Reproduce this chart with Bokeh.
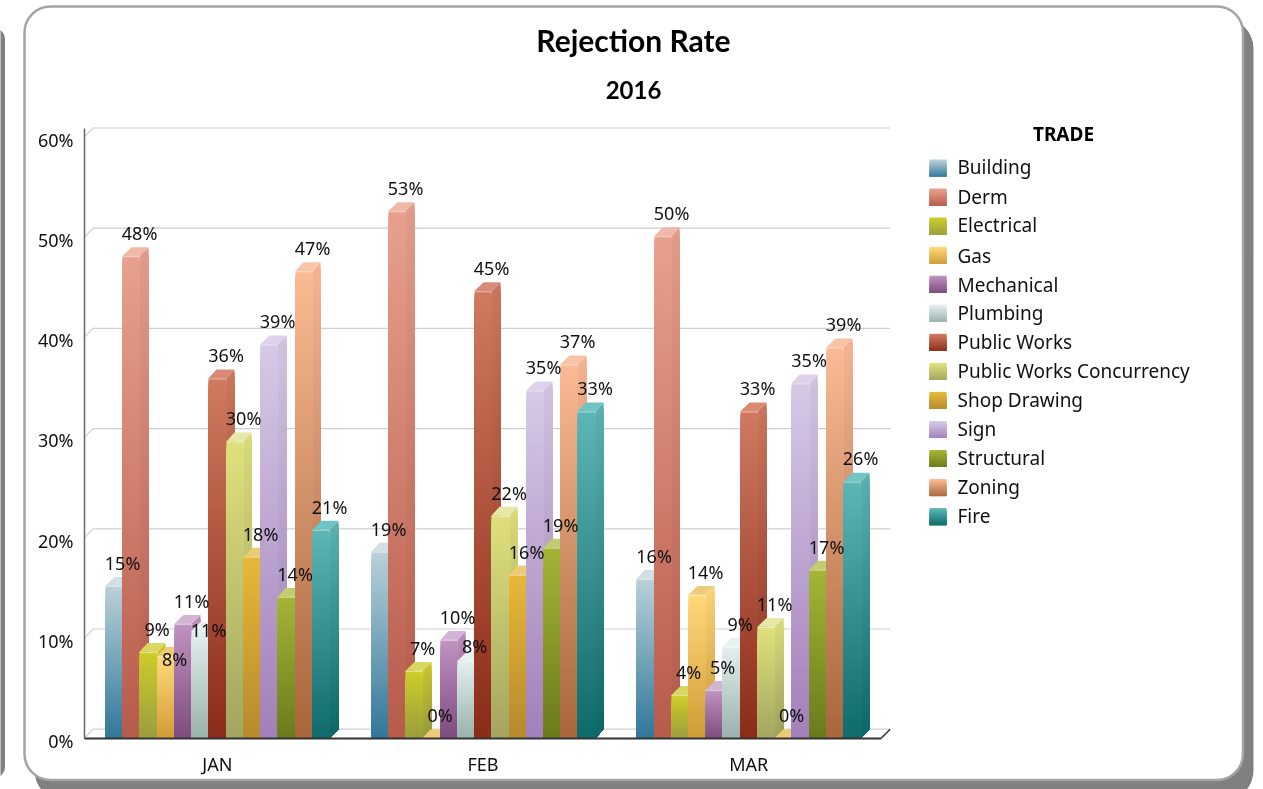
from bokeh.plotting import figure
from bokeh.embed import file_html
from bokeh.resources import INLINE
from bokeh.models import Range1d, FixedTicker, ColumnDataSource
from bokeh.core.properties import value

title_text = "Rejection Rate"
subtitle_text = "2016"
legend_title = "TRADE"
months = ["JAN", "FEB", "MAR"]
trades = ["Building", "Derm", "Electrical", "Gas", "Mechanical", "Plumbing", "Public Works",
          "Public Works Concurrency", "Shop Drawing", "Sign", "Structural", "Zoning", "Fire"]
jan = [15.2, 48.1, 8.6, 8.2, 11.4, 10.7, 35.9, 29.6, 18.1, 39.3, 14.1, 46.6, 20.8]
feb = [18.6, 52.6, 6.7, 0, 9.8, 7.7, 44.6, 22.2, 16.3, 34.7, 19.0, 37.3, 32.6]
mar = [15.9, 50.1, 4.3, 14.3, 4.8, 9.1, 32.6, 11.1, 0, 35.4, 16.8, 39.0, 25.6]
y_ticks = [0, 10, 20, 30, 40, 50, 60]

face_top = ["#b9d0d8", "#e8a08e", "#cccc2a", "#ffd87a", "#bf92c0", "#e2eeee", "#cf7a60",
            "#dfe07c", "#e6b83a", "#d6c9e6", "#a3b536", "#fbb995", "#5db5b5"]
face_bottom = ["#2f7699", "#b75b4b", "#9a9c3f", "#cf9c35", "#7d4a7e", "#97b1a9", "#8b2b19",
               "#a3a460", "#b58a2c", "#a27fb9", "#6a7a1c", "#a8663a", "#0f6a6a"]
cap_color = ["#d0dfe3", "#f0b8a8", "#d8d860", "#eccc7a", "#d4b4d4", "#e8f2f0", "#d98a75",
             "#e6e8a8", "#eccb75", "#ddd2ea", "#c2cc70", "#f8c4a8", "#70c4c4"]

# layout (pixels of the 1263x789 page)
W, H = 1263, 789
X0, STEP = 84.0, 265.67
Y0, UNIT = 737.5, 10.02
def X(px): return (px - X0) / STEP
def Y(py): return (Y0 - py) / UNIT
def snap(x): return X(round(x * STEP + X0))   # vertical edges on whole pixels
DX, DY = 8.6 / STEP, 8.8 / UNIT
BAR = 17.23 / STEP
GROUP = 21.0 / STEP
FONT = "Noto Sans"
# the labels the original chart moved out of each other's way: (month, trade) -> offset in px
label_nudges = {(0, 3): 3, (0, 5): -1, (1, 5): -15}
LABEL_LIFT = -23
TICK_LABEL_DROP = 0.3

def hx(c): return [int(c[i:i + 2], 16) for i in (1, 3, 5)]
def mix(a, b, t):
    return "#%02x%02x%02x" % tuple(round(p + (q - p) * t) for p, q in zip(hx(a), hx(b)))

p = figure(width=W, height=H, output_backend="svg", toolbar_location=None,
           x_range=Range1d(X(0), X(W)), y_range=Range1d(Y(H), Y(0)),
           min_border=0, min_border_left=0, min_border_right=0, min_border_top=0, min_border_bottom=0,
           outline_line_color=None, background_fill_color="white", border_fill_color="white")
p.styles = {"position": "fixed", "left": "0px", "top": "0px"}
p.grid.visible = False

# frame: neighbouring panel edge, shadow, white rounded panel
p.quad(left=[X(-30)], right=[X(4.5)], top=[Y(27)], bottom=[Y(778)], fill_color="#808080",
       line_color=None, border_radius=12)
p.quad(left=[X(34)], right=[X(1253)], top=[Y(18)], bottom=[Y(800)], fill_color="#808080",
       line_color=None, border_radius=30)
p.quad(left=[X(24)], right=[X(1242.5)], top=[Y(6)], bottom=[Y(779.5)], fill_color="white",
       line_color="#a4a4a4", line_width=2.5, border_radius=26)

# back wall and floor lines
xs_grid, ys_grid = [], []
for t in y_ticks:
    xs_grid.append([0, DX, 3 + DX])
    ys_grid.append([t, t + DY, t + DY])
p.multi_line(xs_grid, ys_grid, line_color="#d0d0d0", line_width=1.2)
p.line([3, 3 + DX], [0, DY], line_color="#333333", line_width=1.5)

# bars, painted left to right
pxs, pys, pcs = [], [], []
def poly(xs, ys, c):
    pxs.append(xs); pys.append(ys); pcs.append(c)

lab_x, lab_y, lab_t, lab_off = [], [], [], []
for m, vals in enumerate([jan, feb, mar]):
    for i, v in enumerate(vals):
        x0 = snap(m + GROUP + i * BAR)
        x1 = snap(m + GROUP + (i + 1) * BAR)
        x2 = snap(m + GROUP + (i + 1) * BAR + DX)
        cap_left = x0 + (x2 - x1)
        if v > 0:
            slices = max(10, int(v * UNIT / 3))
            step = v / slices
            for k in range(slices):
                t = k / slices
                yk = v - k * step
                c = mix(face_top[i], face_bottom[i], t)
                poly([x1, x2, x2, x1], [yk, yk + DY, DY, 0], mix(c, "#000000", 0.03))
            for k in range(slices):
                t = k / slices
                yk = v - k * step
                poly([x0, x1, x1, x0], [yk, yk, 0, 0], mix(face_top[i], face_bottom[i], t))
            poly([x0, x1, x1, x0], [v, v, v - 1.2 / UNIT, v - 1.2 / UNIT], mix(face_top[i], "#ffffff", 0.45))
        poly([x0, x1, x2, cap_left], [v, v, v + DY, v + DY], cap_color[i])
        lab_x.append((x0 + x1) / 2 + DX)
        lab_y.append(v)
        lab_t.append(f"{round(v)}%")
        lab_off.append(label_nudges.get((m, i), LABEL_LIFT))

# legend swatches
leg_x0, leg_x1 = X(929), X(946)
leg_tops = [159 + 29.05 * i for i in range(len(trades))]
for i, top in enumerate(leg_tops):
    for k in range(12):
        t = k / 12
        poly([leg_x0, leg_x1, leg_x1, leg_x0],
             [Y(top + 17 * t)] * 2 + [Y(top + 17)] * 2, mix(face_top[i], face_bottom[i], t))

p.patches(xs=pxs, ys=pys, fill_color=pcs, line_color=None)

# axes
p.xaxis.fixed_location = 0
p.yaxis.fixed_location = 0
p.xaxis.bounds = (0, 3)
p.yaxis.bounds = (0, 60.85)
p.xaxis.ticker = FixedTicker(ticks=[0.5, 1.5, 2.5])
p.xaxis.major_label_overrides = {0.5: months[0], 1.5: months[1], 2.5: months[2]}
p.yaxis.ticker = FixedTicker(ticks=[t - TICK_LABEL_DROP for t in y_ticks])
p.yaxis.major_label_overrides = {t - TICK_LABEL_DROP: f"{t}%" for t in y_ticks}
for ax in (p.xaxis[0], p.yaxis[0]):
    ax.major_tick_line_color = None
    ax.minor_tick_line_color = None
    ax.major_label_text_font = FONT
    ax.major_label_text_font_size = "18px"
    ax.major_label_text_color = "#111111"
p.xaxis.axis_line_color = "#333333"
p.xaxis.axis_line_width = 2
p.yaxis.axis_line_color = "#666666"
p.yaxis.axis_line_width = 1.5
p.xaxis.major_label_standoff = 8
p.yaxis.major_label_standoff = 5

# data labels
src = ColumnDataSource(dict(x=lab_x, y=lab_y, t=lab_t, off=lab_off))
p.text(x="x", y="y", text="t", y_offset="off", source=src, text_font=value(FONT), text_font_size="18px",
       text_align="center", text_baseline="middle", text_color="#111111")

# titles and legend text
p.text(x=[X(633)], y=[Y(39.5)], text=[title_text], text_font=value("Lato"), text_font_size="30px",
       text_font_style="bold", text_align="center", text_baseline="middle", text_color="black")
p.text(x=[X(633)], y=[Y(89)], text=[subtitle_text], text_font=value("Lato"), text_font_size="24px",
       text_font_style="bold", text_align="center", text_baseline="middle", text_color="black")
p.text(x=[X(1063)], y=[Y(133)], text=[legend_title], text_font=value(FONT), text_font_size="19px",
       text_font_style="bold", text_align="center", text_baseline="middle", text_color="black")
leg_text_y = [166, 196, 224, 255, 284, 312, 341, 370, 399, 428, 457, 486, 515]
p.text(x=[X(957)] * len(trades), y=[Y(v) for v in leg_text_y], text=trades, text_font=value(FONT),
       text_font_size="19px", text_align="left", text_baseline="middle", text_color="#111111")

open("out.html", "w").write(file_html(p, INLINE))
